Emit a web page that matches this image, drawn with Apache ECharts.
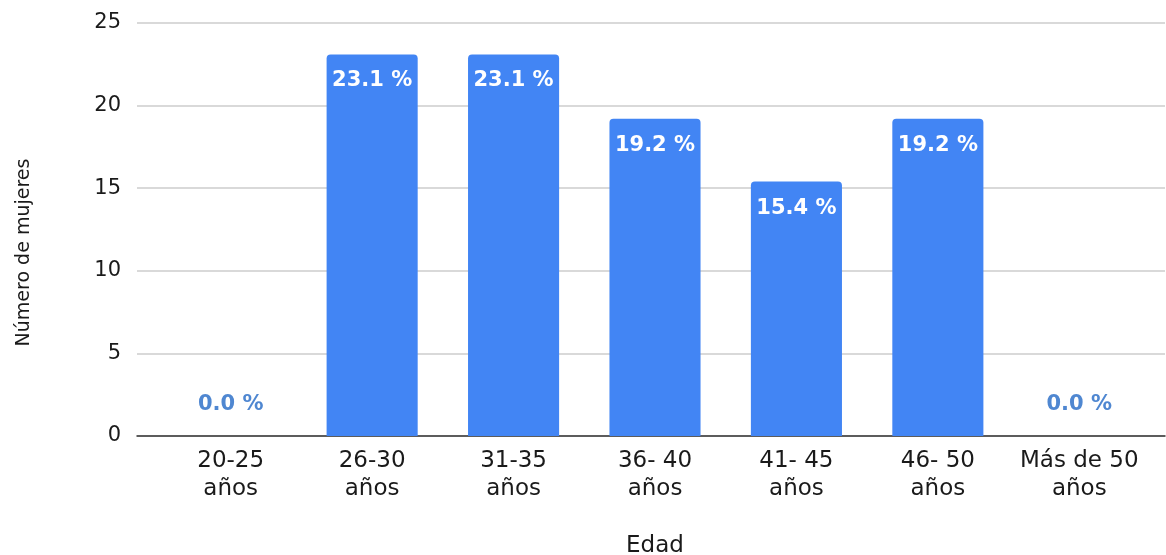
<!DOCTYPE html>
<html>
<head>
<meta charset="utf-8">
<script src="https://cdn.jsdelivr.net/npm/echarts@6/dist/echarts.min.js"></script>
<style>
html,body{margin:0;padding:0;background:#fff;}
#chart{width:1166px;height:555px;}
</style>
</head>
<body>
<div id="chart"></div>
<script>
const categories = ['20-25\naños', '26-30\naños', '31-35\naños', '36- 40\naños', '41- 45\naños', '46- 50\naños', 'Más de 50\naños'];
const values = [0, 23.1, 23.1, 19.2, 15.4, 19.2, 0];
const yMin = 0, yMax = 25, yInterval = 5;
const xTitle = 'Edad';
const yTitle = 'Número de mujeres';

const FONT = 'DejaVu Sans';
const chart = echarts.init(document.getElementById('chart'), null, {renderer: 'canvas'});

const seriesData = values.map(v => v === 0
  ? {value: v, label: {position: 'top', distance: 21, color: '#4F87D1'}}
  : {value: v});

chart.setOption({
  animation: false,
  backgroundColor: '#fff',
  grid: [
    {left: 137, right: 1, top: 23, bottom: 119, containLabel: false, outerBoundsMode: 'none'},
    {left: 160, right: 16, top: 23, bottom: 119, containLabel: false, outerBoundsMode: 'none'}
  ],
  xAxis: [
    {
      type: 'value', gridIndex: 0, min: 0, max: 1,
      axisLine: {show: true, lineStyle: {color: '#333', width: 1.5}},
      axisTick: {show: false}, axisLabel: {show: false}, splitLine: {show: false}
    },
    {
      type: 'category', gridIndex: 1, data: categories,
      axisLine: {show: false}, axisTick: {show: false},
      axisLabel: {fontFamily: FONT, fontSize: 23, color: '#1a1a1a', lineHeight: 28, margin: 11, interval: 0},
      name: xTitle, nameLocation: 'middle', nameGap: 98,
      nameTextStyle: {fontFamily: FONT, fontSize: 23, color: '#1a1a1a', lineHeight: 24}
    }
  ],
  yAxis: [
    {
      type: 'value', gridIndex: 0, min: yMin, max: yMax, interval: yInterval,
      axisLine: {show: false}, axisTick: {show: false},
      axisLabel: {fontFamily: FONT, fontSize: 21, color: '#1a1a1a', margin: 16, padding: [4, 0, 0, 0]},
      splitLine: {lineStyle: {color: '#cccccc', width: 1.5}},
      name: yTitle, nameLocation: 'middle', nameGap: 102,
      nameTextStyle: {fontFamily: FONT, fontSize: 19, color: '#1a1a1a', lineHeight: 22, padding: [0, 0, 0, -46]}
    },
    {
      type: 'value', gridIndex: 1, min: yMin, max: yMax, interval: yInterval, show: false
    }
  ],
  series: [{
    type: 'bar',
    xAxisIndex: 1, yAxisIndex: 1,
    data: seriesData,
    barCategoryGap: '35.6%',
    itemStyle: {color: '#4285F4', borderRadius: [4, 4, 0, 0]},
    label: {
      show: true, position: 'insideTop', distance: 16,
      fontFamily: FONT, fontSize: 21, fontWeight: 'bold', color: '#fff',
      formatter: p => p.value.toFixed(1) + ' %'
    }
  }]
});
</script>
</body>
</html>
